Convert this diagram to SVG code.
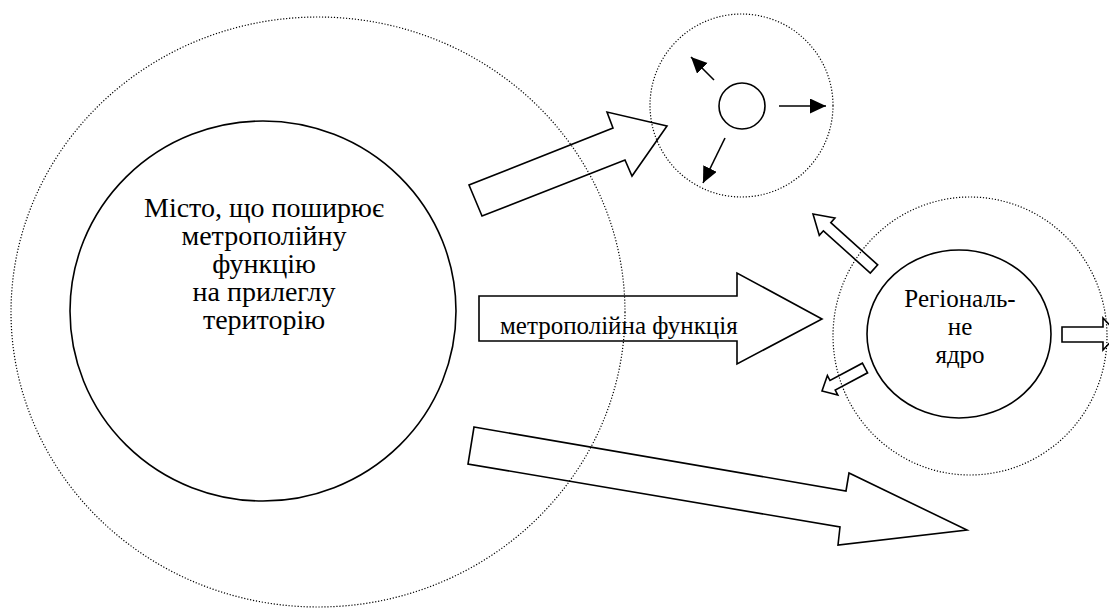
<svg xmlns="http://www.w3.org/2000/svg" width="1109" height="608" viewBox="0 0 1109 608">
<style>
.dot{fill:none;stroke:#000;stroke-width:1.2;stroke-dasharray:1.2 1.8}
.solid{fill:none;stroke:#000;stroke-width:1.6}
.big{fill:none;stroke:#000;stroke-width:1.6;stroke-linejoin:miter}
.thin{stroke:#000;stroke-width:1.6;fill:none}
.t{fill:#000;text-anchor:middle}
</style>
<defs>
<marker id="ah" markerUnits="userSpaceOnUse" markerWidth="17" markerHeight="16" refX="16" refY="7.5" orient="auto" viewBox="0 0 17 16">
<path d="M0,0 L16,7.5 L0,15 z" fill="#000"/>
</marker>
</defs>
<rect width="1109" height="608" fill="#fff"/>
<g id="city-zone">
<ellipse class="dot" cx="318" cy="312" rx="307" ry="295"/>
</g>
<g id="satellite">
<circle class="dot" cx="741.5" cy="105.5" r="91.5"/>
<circle class="solid" cx="742" cy="106" r="23"/>
</g>
<g id="regional">
<ellipse class="dot" cx="970" cy="336" rx="137" ry="139"/>
<ellipse class="solid" cx="959" cy="334" rx="92" ry="84"/>
<text class="t" font-family="'Liberation Serif', 'Times New Roman', serif" font-size="25"><tspan x="960" y="307">Регіональ-</tspan><tspan x="960" y="335">не</tspan><tspan x="960" y="363">ядро</tspan></text>
</g>
<g id="connectors">
<polygon class="big" points="482,216 469,185 613,128 607,112 667,126 632,176 625,160"/>
<polygon class="big" points="479,296 737,296 737,273 822,319 737,364 737,341 479,341"/>
<polygon class="big" points="474,427 846,491 849,473 967,530 838,545 840,527 468,464"/>
<polygon class="big" points="813,214 834.9,218 830.8,222.6 877.7,264.9 870.3,273.1 823.4,230.8 819.3,235.4"/>
<polygon class="big" points="822,391 827.4,375.6 830,380.5 862.4,363.2 867.6,372.8 835.2,390.1 837.8,395"/>
<polygon class="big" points="1062,327 1103,327 1103,318 1118,334 1103,350 1103,342 1062,342"/>
<line class="thin" x1="779" y1="106" x2="826" y2="106" marker-end="url(#ah)"/>
<line class="thin" x1="714" y1="80" x2="691" y2="57" marker-end="url(#ah)"/>
<line class="thin" x1="725" y1="138" x2="703" y2="183" marker-end="url(#ah)"/>
<text fill="#000" font-family="'Liberation Serif', 'Times New Roman', serif" font-size="25" x="500" y="334">метрополійна функція</text>
</g>
<g id="city">
<ellipse class="solid" cx="263" cy="311" rx="193" ry="190"/>
<text class="t" font-family="'Liberation Serif', 'Times New Roman', serif" font-size="28"><tspan x="264" y="217">Місто, що поширює</tspan><tspan x="264" y="245">метрополійну</tspan><tspan x="264" y="273">функцію</tspan><tspan x="264" y="301">на прилеглу</tspan><tspan x="264" y="329">територію</tspan></text>
</g>
</svg>
